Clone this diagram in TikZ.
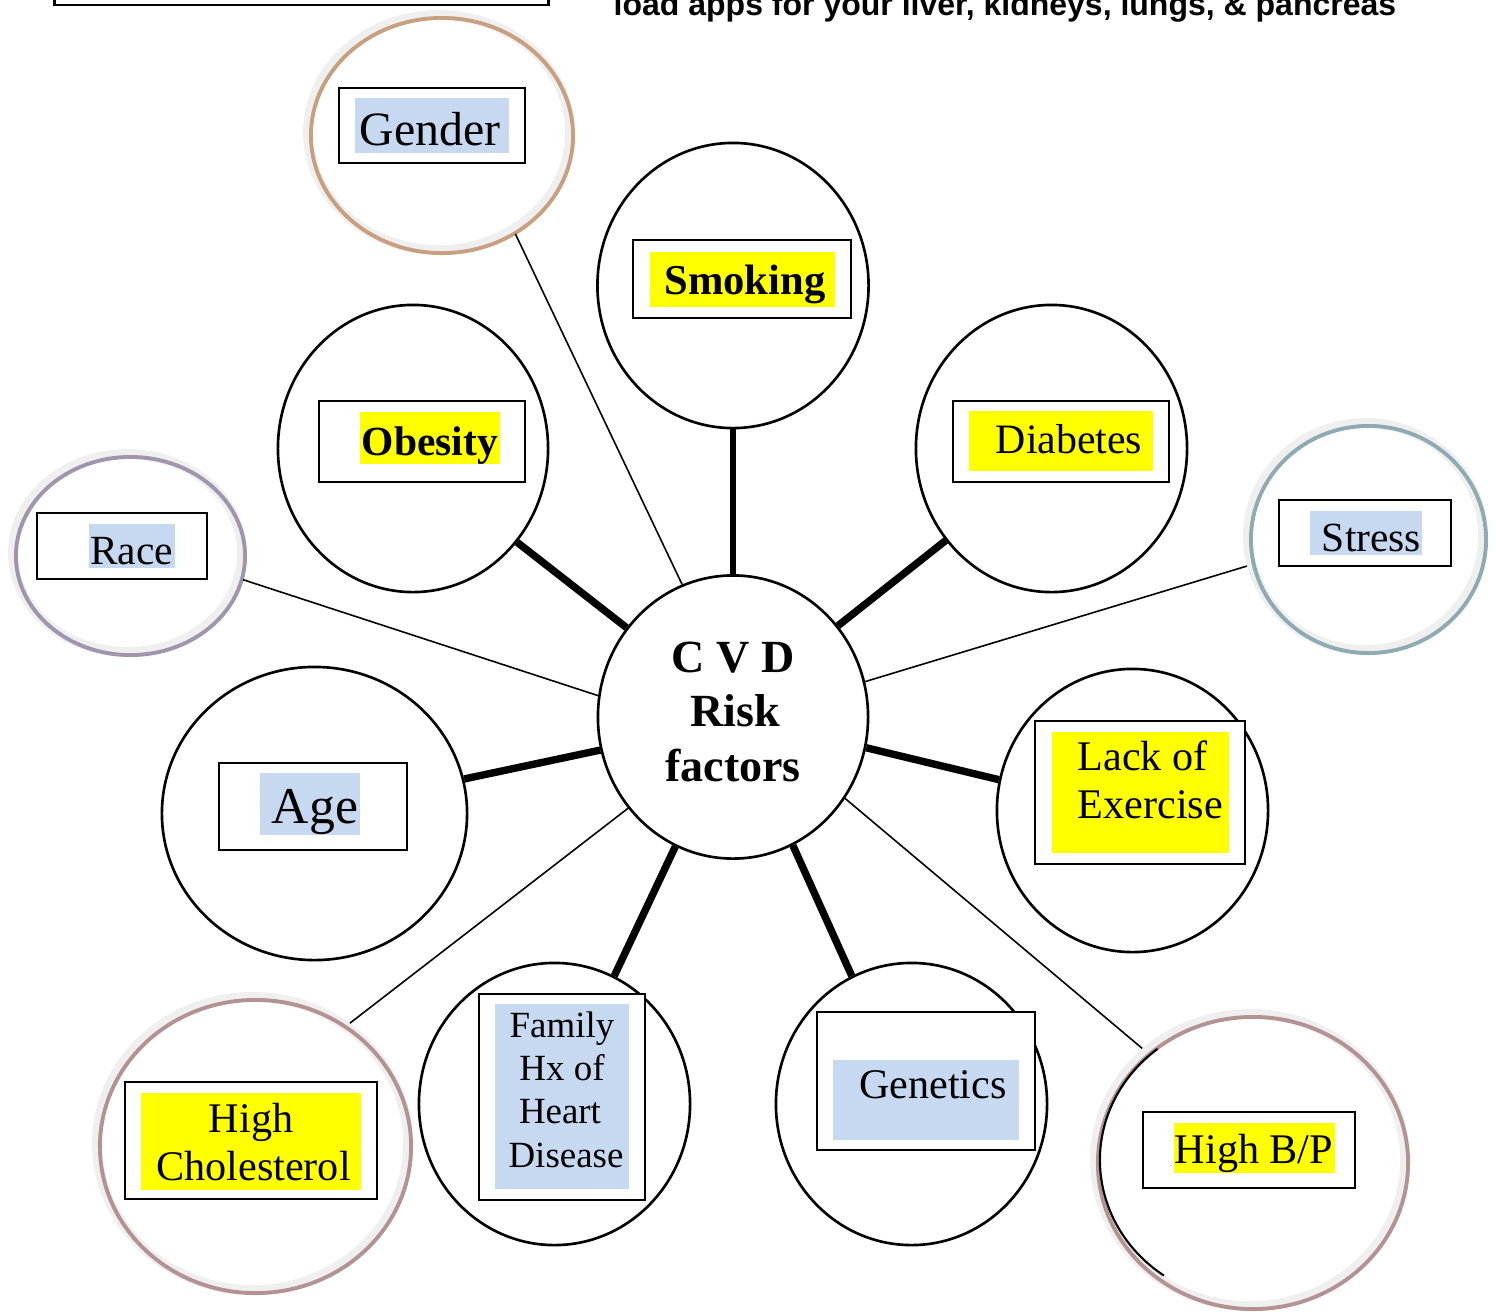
\documentclass[tikz,border=0pt]{standalone}
\usepackage{fontspec}
\setmainfont{Liberation Serif}
\newfontfamily\arialfont{Liberation Sans}
\usetikzlibrary{shapes.geometric,calc}
\definecolor{hlyel}{HTML}{FFFF00}
\definecolor{hlblue}{HTML}{C6D9F1}
\definecolor{ringgray}{HTML}{EFEFEF}
\definecolor{rgender}{HTML}{C8A080}
\definecolor{rrace}{HTML}{A095AC}
\definecolor{rstress}{HTML}{8FAAB3}
\definecolor{rrose}{HTML}{B39293}
\newcommand\fsz[1]{\fontsize{#1}{#1}\selectfont}
\begin{document}
\begin{tikzpicture}[x=0.01cm,y=-0.01cm,
  bcirc/.style={ellipse, draw=black, line width=0.75pt, inner sep=0pt},
  ring/.style={ellipse, draw=ringgray, line width=2.8pt, inner sep=0pt},
  lbox/.style={rectangle, draw=black, line width=0.6pt, fill=white, inner sep=0pt},
  hlbox/.style={rectangle, inner sep=0pt, draw=none},
  lbl/.style={inner sep=0pt, anchor=base},
  heavylink/.style={line width=2.1pt},
  lightlink/.style={line width=0.45pt},
]
\useasboundingbox (0,0) rectangle (1496,1311);

% top remnants
\node[draw, line width=0.8pt, minimum width=4.93cm, minimum height=0.5cm, inner sep=0pt] (topbox) at (301.5,-20) {};
\node[lbl, anchor=base west, font=\arialfont\bfseries\fsz{9.1pt}] (toptext) at (613,15) {load apps for your liver, kidneys, lungs, \& pancreas};

% black circles
\node[bcirc, minimum width=2.70cm, minimum height=2.83cm] (cvd) at (733,717) {};
\node[bcirc, minimum width=2.71cm, minimum height=2.85cm] (smoke) at (733,285.5) {};
\node[bcirc, minimum width=2.70cm, minimum height=2.87cm] (obes) at (413,448.5) {};
\node[bcirc, minimum width=2.71cm, minimum height=2.87cm] (diab) at (1051.5,448.5) {};
\node[bcirc, minimum width=3.05cm, minimum height=2.93cm] (age) at (314.5,813.5) {};
\node[bcirc, minimum width=2.71cm, minimum height=2.83cm] (lack) at (1132.5,810.5) {};
\node[bcirc, minimum width=2.71cm, minimum height=2.82cm] (fam) at (554.5,1104) {};
\node[bcirc, minimum width=2.71cm, minimum height=2.82cm] (gen) at (911.5,1104) {};

% coloured rings
\node[ring, minimum width=2.62cm, minimum height=2.35cm] (gender) at (439,132.5) {};
\draw[rgender, line width=1.1pt] ($(gender.center)+(3,3)$) ellipse [x radius=1.31cm, y radius=1.175cm];
\node[ring, minimum width=2.29cm, minimum height=1.98cm] (race) at (127.5,553) {};
\draw[rrace, line width=1.1pt] ($(race.center)+(3,3)$) ellipse [x radius=1.145cm, y radius=0.99cm];
\node[ring, minimum width=2.35cm, minimum height=2.27cm] (stress) at (1365.5,536.5) {};
\draw[rstress, line width=1.1pt] ($(stress.center)+(3,3)$) ellipse [x radius=1.175cm, y radius=1.135cm];
\node[ring, minimum width=3.11cm, minimum height=2.93cm] (chol) at (252.5,1143.5) {};
\draw[rrose, line width=1.1pt] ($(chol.center)+(3,3)$) ellipse [x radius=1.555cm, y radius=1.465cm];
\node[ring, minimum width=3.10cm, minimum height=2.92cm] (bp) at (1250,1160) {};
\draw[rrose, line width=1.1pt] ($(bp.center)+(3,3)$) ellipse [x radius=1.55cm, y radius=1.46cm];
\draw[line width=0.6pt] ($(bp.center)+(128:1.5cm and 1.41cm)$) arc[start angle=128, end angle=235, x radius=1.5cm, y radius=1.41cm];

% connectors
\draw[heavylink, line width=1.6pt] (smoke.south) -- (cvd.north);
\draw[heavylink] (obes.-42) -- (cvd.140);
\draw[heavylink] (diab.-139) -- (cvd.41);
\draw[heavylink] (age.13) -- (cvd.194);
\draw[heavylink] (lack.167) -- (cvd.-13);
\draw[heavylink] (fam.65) -- (cvd.-114);
\draw[heavylink] (gen.115) -- (cvd.-65);
\draw[lightlink] (gender.-53) -- (cvd.111);
\draw[lightlink] (race.-13) -- (cvd.171);
\draw[lightlink] (stress.194) -- (cvd.15);
\draw[lightlink] (chol.51) -- (cvd.221);
\draw[lightlink] (bp.134) -- (cvd.-36);

% centre text
\node[lbl, font=\bfseries\fsz{13.1pt}] (cvd1) at (733,672) {C V D};
\node[lbl, font=\bfseries\fsz{13.1pt}] (cvd2) at (735.5,726) {Risk};
\node[lbl, font=\bfseries\fsz{13.1pt}] (cvd3) at (733,781) {factors};

% Gender
\node[lbox, minimum width=1.86cm, minimum height=0.75cm] (genderbox) at (432,125.5) {};
\node[hlbox, fill=hlblue, minimum width=1.54cm, minimum height=0.55cm] (genderhl) at (432,125.5) {};
\node[lbl, font=\fsz{13.6pt}] (gendert) at (430,145) {Gender};
% Smoking
\node[lbox, minimum width=2.18cm, minimum height=0.78cm] (smokebox) at (742,279) {};
\node[hlbox, fill=hlyel, minimum width=1.85cm, minimum height=0.55cm] (smokehl) at (742.5,279.5) {};
\node[lbl, font=\bfseries\fsz{12.1pt}] (smoket) at (745,294) {Smoking};
% Obesity
\node[lbox, minimum width=2.06cm, minimum height=0.81cm] (obesbox) at (422,441.5) {};
\node[hlbox, fill=hlyel, minimum width=1.40cm, minimum height=0.52cm] (obeshl) at (430,438) {};
\node[lbl, font=\bfseries\fsz{11.8pt}] (obest) at (430,455) {Obesity};
% Diabetes
\node[lbox, minimum width=2.16cm, minimum height=0.81cm] (diabbox) at (1061,441.5) {};
\node[hlbox, fill=hlyel, minimum width=1.84cm, minimum height=0.60cm] (diabhl) at (1061,441) {};
\node[lbl, font=\fsz{11.9pt}] (diabt) at (1069,453) {Diabetes};
% Race
\node[lbox, minimum width=1.70cm, minimum height=0.66cm] (racebox) at (122,546) {};
\node[hlbox, fill=hlblue, minimum width=0.86cm, minimum height=0.44cm] (racehl) at (132,546) {};
\node[lbl, font=\fsz{11.8pt}] (racet) at (131.5,564) {Race};
% Stress
\node[lbox, minimum width=1.72cm, minimum height=0.66cm] (stressbox) at (1365,533) {};
\node[hlbox, fill=hlblue, minimum width=1.12cm, minimum height=0.44cm] (stresshl) at (1366,533) {};
\node[lbl, font=\fsz{11.8pt}] (stresst) at (1371.5,551) {Stress};
% Age
\node[lbox, minimum width=1.88cm, minimum height=0.87cm] (agebox) at (313,806.5) {};
\node[hlbox, fill=hlblue, minimum width=1.00cm, minimum height=0.62cm] (agehl) at (310,804) {};
\node[lbl, font=\fsz{14.7pt}] (aget) at (315,823) {Age};
% Lack of Exercise
\node[lbox, minimum width=2.10cm, minimum height=1.43cm] (lackbox) at (1140,792.5) {};
\node[hlbox, fill=hlyel, minimum width=1.77cm, minimum height=1.21cm] (lackhl) at (1140.5,792.5) {};
\node[lbl, anchor=base west, font=\fsz{12pt}] (lackt1) at (1077,770) {Lack of};
\node[lbl, anchor=base west, font=\fsz{12pt}] (lackt2) at (1077,818) {Exercise};
% Family Hx
\node[lbox, minimum width=1.66cm, minimum height=2.06cm] (fambox) at (562,1097) {};
\node[hlbox, fill=hlblue, minimum width=1.34cm, minimum height=1.85cm] (famhl) at (562,1096.5) {};
\node[lbl, font=\fsz{10.5pt}] (famt1) at (562,1037) {Family};
\node[lbl, font=\fsz{10.5pt}] (famt2) at (562,1080) {Hx of};
\node[lbl, font=\fsz{10.5pt}] (famt3) at (560,1123) {Heart};
\node[lbl, font=\fsz{10.5pt}] (famt4) at (566,1167) {Disease};
% Genetics
\node[lbox, minimum width=2.18cm, minimum height=1.38cm] (genbox) at (926,1081) {};
\node[hlbox, fill=hlblue, minimum width=1.86cm, minimum height=0.80cm] (genhl) at (926,1100) {};
\node[lbl, font=\fsz{12pt}] (gent) at (933,1098) {Genetics};
% High Cholesterol
\node[lbox, minimum width=2.52cm, minimum height=1.17cm] (cholbox) at (251,1140.5) {};
\node[hlbox, fill=hlyel, minimum width=2.20cm, minimum height=0.97cm] (cholhl) at (251,1141.5) {};
\node[lbl, font=\fsz{12pt}] (cholt1) at (251,1132) {High};
\node[lbl, font=\fsz{12pt}] (cholt2) at (253.5,1180) {Cholesterol};
% High B/P
\node[lbox, minimum width=2.12cm, minimum height=0.76cm] (bpbox) at (1249,1150) {};
\node[hlbox, fill=hlyel, minimum width=1.61cm, minimum height=0.50cm] (bphl) at (1254.5,1148) {};
\node[lbl, font=\fsz{12pt}] (bpt) at (1254,1163) {High B/P};
\end{tikzpicture}
\end{document}
